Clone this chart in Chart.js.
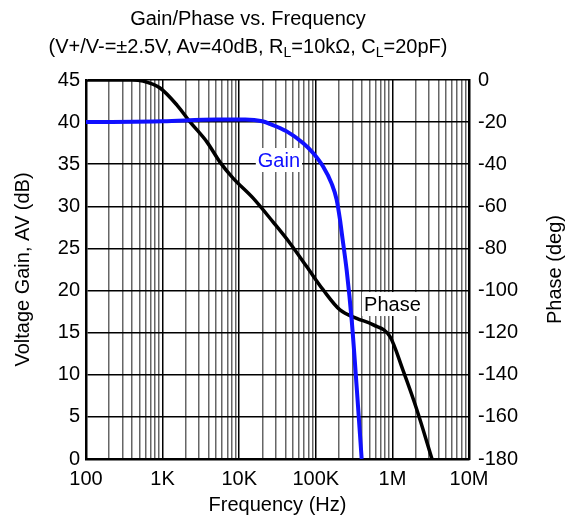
<!DOCTYPE html>
<html>
<head>
<meta charset="utf-8">
<script src="https://cdn.jsdelivr.net/npm/chart.js@4/dist/chart.umd.min.js"></script>
<style>
  html, body { margin: 0; padding: 0; background: #fff; }
  #wrap { position: relative; width: 568px; height: 522px; }
  #titulo {
    position: absolute; left: 0; top: 4px; width: 496px; text-align: center;
    font-family: "Liberation Sans", Arial, sans-serif; font-size: 20px; line-height: 28px; color: #000;
    white-space: nowrap;
  }
  #titulo sub { font-size: 14px; vertical-align: -4px; line-height: 0; }
</style>
</head>
<body>
<div id="wrap">
  <canvas id="grafico" width="568" height="522"></canvas>
  <div id="titulo">Gain/Phase vs. Frequency<br>(V+/V-=±2.5V, Av=40dB, R<sub>L</sub>=10kΩ, C<sub>L</sub>=20pF)</div>
</div>
<script>
// Gain curve (Hz, dB)
const freqGanho = [100, 1000, 5000, 12000, 20000, 25000, 41700, 68700, 92800, 125000, 161000, 187000, 207000, 220000, 253000, 294000, 342000, 397000];
const ganho     = [40,  40.1, 40.3, 40.3,  40.1,  39.8,  38.9,  37.5,  36.3,  34.7,   32.7,   30.8,   28.4,   26.6,   22.4,   16.5,   8.5,    0];

// Phase curve (Hz, deg)
const freqFase = [100, 400, 555, 925, 1540, 2280, 3800, 5610, 8300, 15100, 27600, 46000, 76000, 125000, 207000, 342000, 564000, 931000, 1370000, 2090000, 3290000];
const fase     = [0,   0,   -0.5, -3.8, -11.9, -19.9, -29.5, -39, -46.6, -56, -67.4, -77.5, -88.6, -99.7, -109.2, -113.2, -116.3, -121.9, -137.7, -156.7, -180];

const decadas = [100, 1e3, 1e4, 1e5, 1e6, 1e7];
const rotulosX = ['100', '1K', '10K', '100K', '1M', '10M'];

const fonte = '"Liberation Sans", Arial, sans-serif';

// ticks 1..9 em cada década
const ticksX = [];
for (let d = 0; d < decadas.length; d++) {
    if (d === decadas.length - 1) { ticksX.push(decadas[d]); break; }
    for (let m = 1; m <= 9; m++) ticksX.push(decadas[d] * m);
}

const rotulosCurvas = {
    id: 'rotulosCurvas',
    beforeDatasetsDraw(chart) {
        const c = chart.ctx;
        const x = chart.scales.x, y = chart.scales.y;
        c.save();
        c.font = '20px ' + fonte;
        c.textAlign = 'center';
        c.textBaseline = 'middle';
        [['Gain', 33000, 35.5, '#1010ff'], ['Phase', 1000000, 18.4, '#000']].forEach(([txt, fx, vy, cor]) => {
            const px = x.getPixelForValue(fx), py = y.getPixelForValue(vy);
            const w = c.measureText(txt).width;
            c.fillStyle = '#fff';
            c.fillRect(px - w / 2 - 2, py - 12, w + 4, 24);
            c.fillStyle = cor;
            c.fillText(txt, px, py + 1);
        });
        c.restore();
    },
    afterDraw(chart) {
        // título do eixo direito, lido de baixo para cima
        const c = chart.ctx;
        const a = chart.chartArea;
        c.save();
        c.font = '20px ' + fonte;
        c.fillStyle = '#000';
        c.textAlign = 'center';
        c.textBaseline = 'middle';
        c.translate(555, (a.top + a.bottom) / 2);
        c.rotate(-Math.PI / 2);
        c.fillText('Phase (deg)', 0, 0);
        c.restore();
    }
};

new Chart(document.getElementById('grafico').getContext('2d'), {
    type: 'line',
    data: {
        datasets: [{
            label: 'Gain',
            data: freqGanho.map((f, i) => ({ x: f, y: ganho[i] })),
            yAxisID: 'y',
            borderColor: '#1010ff',
            borderWidth: 4,
            pointRadius: 0,
            cubicInterpolationMode: 'monotone'
        }, {
            label: 'Phase',
            data: freqFase.map((f, i) => ({ x: f, y: fase[i] })),
            yAxisID: 'y2',
            borderColor: '#000',
            borderWidth: 3.5,
            pointRadius: 0,
            cubicInterpolationMode: 'monotone'
        }]
    },
    options: {
        responsive: false,
        animation: false,
        layout: { padding: { top: 80, left: 0, right: 0, bottom: 0 } },
        plugins: { legend: { display: false }, tooltip: { enabled: false } },
        scales: {
            x: {
                type: 'logarithmic',
                min: 100,
                max: 1e7,
                afterBuildTicks: s => { s.ticks = ticksX.map(v => ({ value: v })); },
                afterFit: s => { s.height = 63; },
                ticks: {
                    autoSkip: false, maxRotation: 0, padding: 8,
                    color: '#000', font: { family: fonte, size: 20 },
                    callback: v => { const i = decadas.indexOf(v); return i >= 0 ? rotulosX[i] : ''; }
                },
                grid: {
                    drawTicks: false,
                    color: ctx => decadas.includes(ctx.tick && ctx.tick.value) ? '#000' : '#666',
                    lineWidth: 1.5
                },
                border: { color: '#000', width: 2.5 },
                title: { display: true, text: 'Frequency (Hz)', color: '#000', font: { family: fonte, size: 20 }, padding: { top: 0, bottom: 5 } }
            },
            y: {
                position: 'left',
                min: 0, max: 45,
                afterFit: s => { s.width = 86; },
                ticks: { stepSize: 5, padding: 6, color: '#000', font: { family: fonte, size: 20 } },
                grid: { drawTicks: false, color: '#000', lineWidth: 1.5 },
                border: { color: '#000', width: 2.5 },
                title: { display: true, text: 'Voltage Gain, AV (dB)', color: '#000', font: { family: fonte, size: 20 }, padding: { top: 11, bottom: 0 } }
            },
            y2: {
                position: 'right',
                min: -180, max: 0,
                afterFit: s => { s.width = 99; },
                ticks: { stepSize: 20, padding: 9, color: '#000', font: { family: fonte, size: 20 } },
                grid: { drawOnChartArea: false, drawTicks: false },
                border: { color: '#000', width: 2.5 }
            }
        }
    },
    plugins: [rotulosCurvas]
});
</script>
</body>
</html>
